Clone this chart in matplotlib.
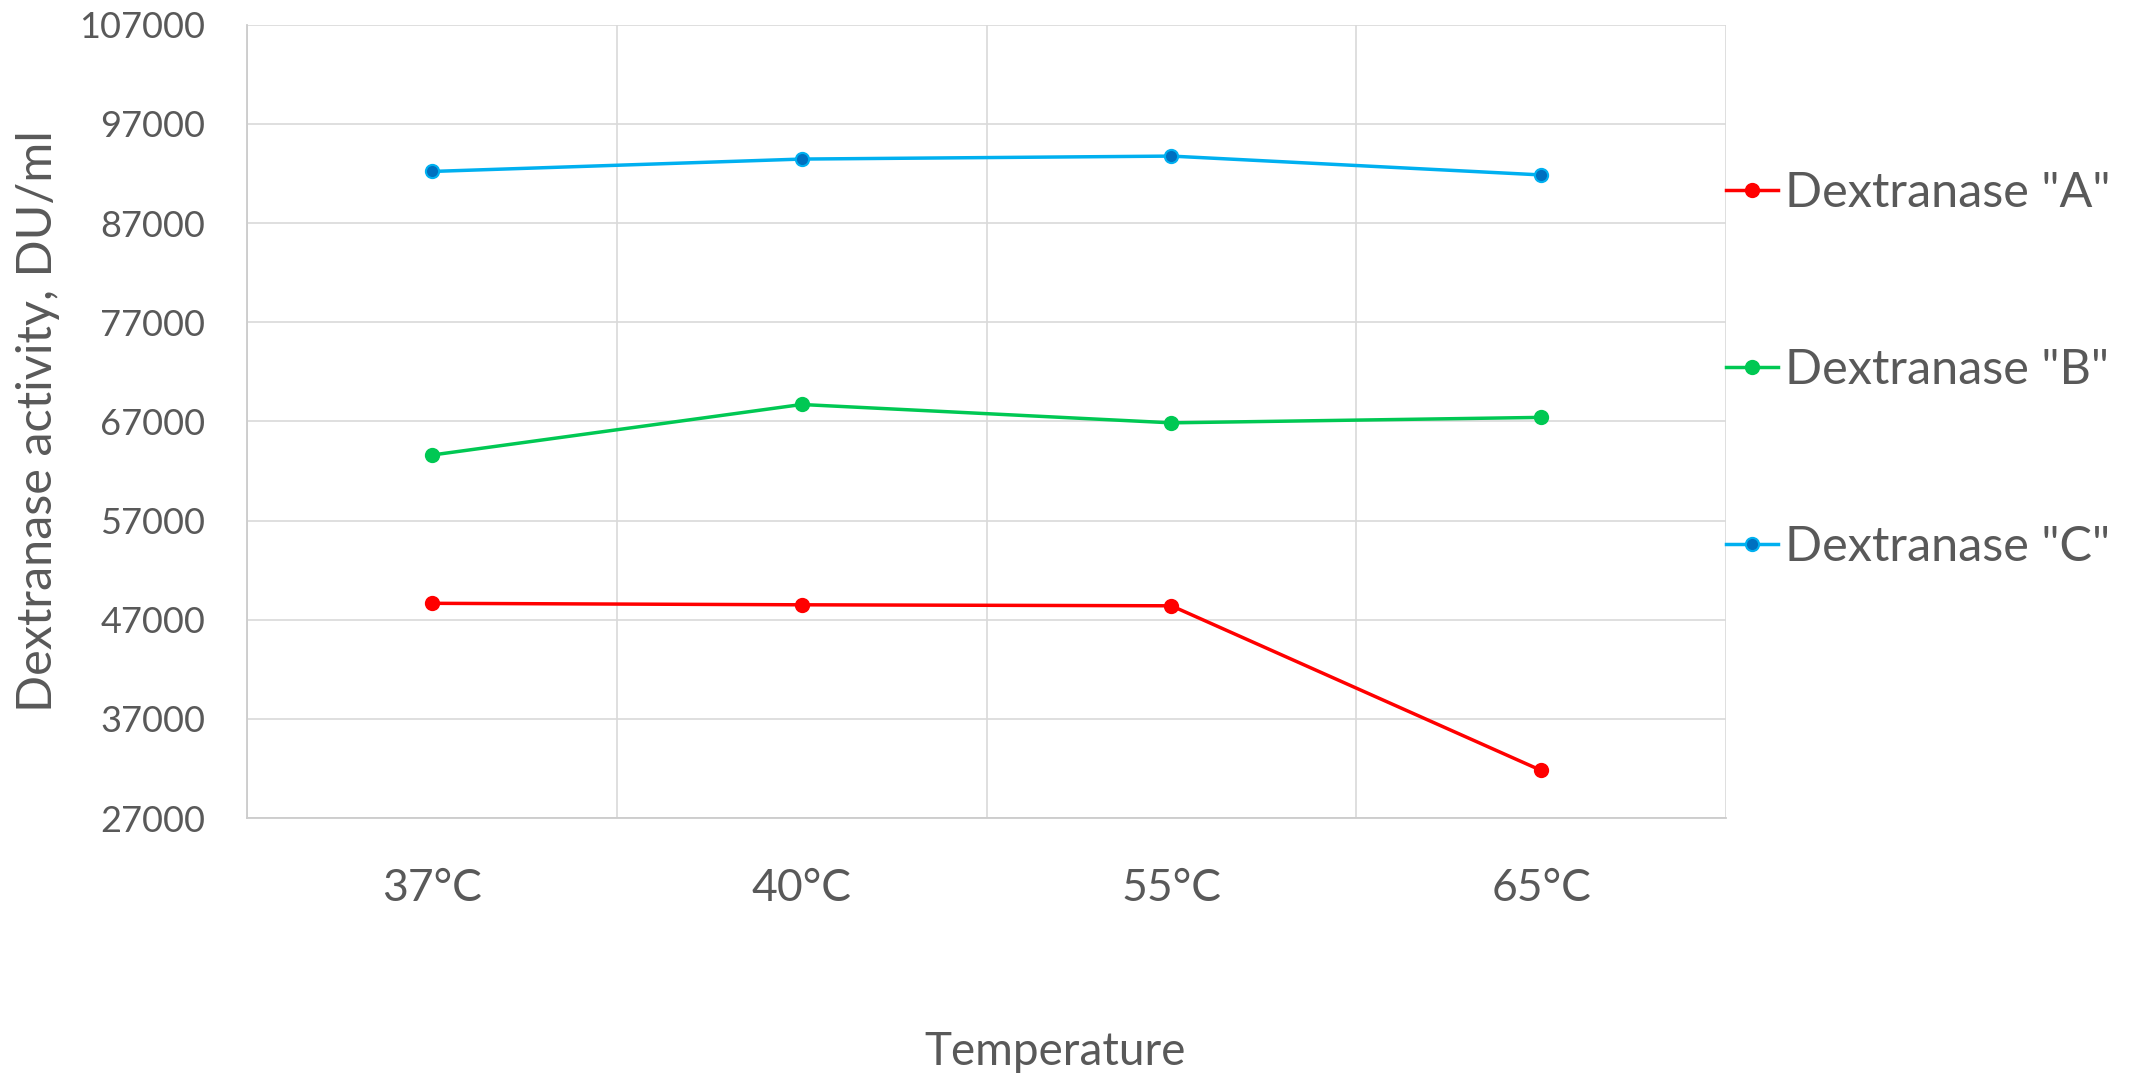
import matplotlib
matplotlib.use("Agg")
import matplotlib.pyplot as plt
import numpy as np

categories = ["37°C", "40°C", "55°C", "65°C"]
series_names = ['Dextranase "A"', 'Dextranase "B"', 'Dextranase "C"']
values_a = [48650, 48500, 48400, 31800]
values_b = [63600, 68700, 66850, 67400]
values_c = [92200, 93450, 93750, 91850]
yticks = [27000, 37000, 47000, 57000, 67000, 77000, 87000, 97000, 107000]

plt.rcParams['font.family'] = ['Lato', 'DejaVu Sans']
txt = '#595959'
W, H = 2148, 1081
fig = plt.figure(figsize=(W / 100, H / 100), dpi=100)
ax = fig.add_axes([247 / W, 1 - 818 / H, (1726 - 247) / W, (818 - 24.7) / H])

x = np.arange(len(categories)) + 0.5
styles = [
    dict(color='#FF0000', mfc='#FF0000', mec='#FF0000'),
    dict(color='#00C853', mfc='#00C853', mec='#00C853'),
    dict(color='#00B0F0', mfc='#0070C0', mec='#00B0F0'),
]
for vals, name, st in zip([values_a, values_b, values_c], series_names, styles):
    ax.plot(x, vals, '-o', color=st['color'], lw=2.5, ms=9.5,
            mfc=st['mfc'], mec=st['mec'], mew=1.5, label=name, zorder=3)

ax.set_xlim(0, len(categories))
ax.set_ylim(yticks[0], yticks[-1])
ax.set_yticks(yticks)
ax.set_yticklabels([str(v) for v in yticks], fontsize=26, color=txt)
ax.set_xticks(x)
ax.set_xticklabels(categories, fontsize=32, color=txt)
ax.set_xticks(np.arange(len(categories) + 1), minor=True)
ax.tick_params(axis='y', length=0, pad=30)
ax.tick_params(axis='x', which='both', length=0, pad=36)
ax.grid(axis='y', color='#D9D9D9', lw=1.2, zorder=0)
ax.grid(axis='x', which='minor', color='#D9D9D9', lw=1.2, zorder=0)
for s in ['top', 'right']:
    ax.spines[s].set_visible(False)
for s in ['left', 'bottom']:
    ax.spines[s].set_color('#CCCCCC')
    ax.spines[s].set_linewidth(1.3)

fig.text(38 / W, 1 - 421 / H, 'Dextranase activity, DU/ml', rotation=90,
         ha='center', va='center', fontsize=35, color=txt)
fig.text(1055 / W, 1 - 1052 / H, 'Temperature', ha='center', va='center',
         fontsize=33, color=txt)

leg = ax.legend(loc='center left', bbox_to_anchor=(1726 / W, 1 - 370 / H),
                bbox_transform=fig.transFigure, frameon=False, fontsize=35,
                handlelength=1.07, handletextpad=0.15, labelspacing=2.74,
                borderaxespad=0, borderpad=0)
for t in leg.get_texts():
    t.set_color(txt)

fig.savefig('out.png', dpi=100, facecolor='white')
